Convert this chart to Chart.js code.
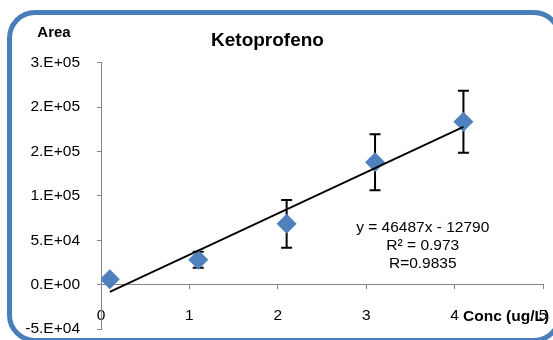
<!DOCTYPE html>
<html>
<head>
<meta charset="utf-8">
<script src="https://cdn.jsdelivr.net/npm/chart.js@4.4.1/dist/chart.umd.min.js"></script>
<style>
	body { margin: 0; background: #fff; }
	#wrap { position: relative; width: 553px; height: 340px; overflow: hidden; }
	#frame { position: absolute; left: 7px; top: 10px; width: 555px; height: 333px; box-sizing: border-box;
		border: 5px solid #4a7ebb; border-radius: 28px; pointer-events: none; }
</style>
</head>
<body>
<div id="wrap">
	<canvas id="mycanvas" width="553" height="340"></canvas>
	<div id="frame"></div>
</div>
<script>
var conc = [0.1, 1.1, 2.1, 3.1, 4.1];
var area = [6100, 28000, 68500, 138000, 183550];
var areaErr = [3000, 9000, 27000, 31500, 35000];

// trendline ends (y = 46487x - 12790)
var trendX = [0.1, 4.1];
var trendY = [-8141, 177807];

var xTicks = [0, 1, 2, 3, 4, 5];
var yTicks = [-50000, 0, 50000, 100000, 150000, 200000, 250000];
var yLabels = ['-5.E+04', '0.E+00', '5.E+04', '1.E+05', '2.E+05', '2.E+05', '3.E+05'];
var eqLines = ['y = 46487x - 12790', 'R\u00b2 = 0.973', 'R=0.9835'];

var FONT = '"Liberation Sans", Arial, sans-serif';

var points = [];
var errBars = [];
var trend = [];
for (var i in conc) {
	points.push({x: conc[i], y: area[i]});
	errBars.push({x: conc[i], y: area[i] - areaErr[i]});
	errBars.push({x: conc[i], y: area[i] + areaErr[i]});
	errBars.push({x: conc[i], y: null});
}
for (var j in trendX) {
	trend.push({x: trendX[j], y: trendY[j]});
}

var textPlugin = {
	id: 'chartText',
	afterDraw: function(chart) {
		var ctx = chart.ctx;
		var xs = chart.scales.x, ys = chart.scales.y;
		ctx.save();
		ctx.fillStyle = '#000';
		ctx.textBaseline = 'middle';
		ctx.textAlign = 'center';
		ctx.font = 'bold 15px ' + FONT;
		ctx.fillText('Area', 54, 33);

		ctx.font = '15.5px ' + FONT;
		var ex = xs.getPixelForValue(3.64);
		var ey = ys.getPixelForValue(63700);
		for (var k = 0; k < eqLines.length; k++) {
			ctx.fillText(eqLines[k], ex, ey + k * 18);
		}

		ctx.font = 'bold 15.5px ' + FONT;
		ctx.textAlign = 'left';
		ctx.fillText('Conc (ug/L)', 463, 317);
		ctx.restore();
	}
};

Chart.defaults.font.family = FONT;
Chart.defaults.color = '#000';

var ctx = document.getElementById('mycanvas');

var chart = new Chart(ctx, {
	type: 'scatter',
	data: {
		datasets: [
			{
				label: 'trend',
				data: trend,
				showLine: true,
				borderColor: '#000',
				borderWidth: 1.75,
				pointRadius: 0,
				order: 0
			},
			{
				label: 'Area',
				data: points,
				pointStyle: 'rectRot',
				pointRadius: 10,
				pointHoverRadius: 10,
				backgroundColor: '#4f81bd',
				borderColor: '#4f81bd',
				borderWidth: 0,
				order: 1
			},
			{
				label: 'error',
				data: errBars,
				showLine: true,
				spanGaps: false,
				borderColor: '#000',
				borderWidth: 2,
				pointStyle: 'line',
				pointRadius: 5.5,
				pointBorderColor: '#000',
				pointBorderWidth: 2,
				order: 2
			}
		]
	},
	options: {
		responsive: false,
		animation: false,
		layout: { padding: { left: -10, right: 8, top: 0, bottom: 11 } },
		plugins: {
			legend: { display: false },
			tooltip: { enabled: false },
			title: {
				display: true,
				text: 'Ketoprofeno',
				color: '#000',
				font: { size: 19, weight: 'bold' },
				padding: { top: 29, bottom: 11 }
			}
		},
		scales: {
			x: {
				type: 'linear',
				position: { y: 0 },
				min: 0,
				max: 5,
				afterBuildTicks: function(scale) {
					scale.ticks = xTicks.map(function(v) { return {value: v}; });
				},
				afterFit: function(scale) {
					scale.paddingLeft = 0;
					scale.paddingRight = 0;
				},
				grid: { display: true, drawOnChartArea: false, tickLength: 4, color: '#868686' },
				border: { color: '#868686', width: 1 },
				ticks: { font: { size: 15.5 }, padding: 18, maxRotation: 0 }
			},
			y: {
				min: -50000,
				max: 250000,
				afterBuildTicks: function(scale) {
					scale.ticks = yTicks.map(function(v) { return {value: v}; });
				},
				afterFit: function(scale) {
					scale.width = 111;
					scale.paddingTop = 9;
					scale.paddingBottom = 9;
				},
				grid: { display: true, drawOnChartArea: false, tickLength: 4, color: '#868686' },
				border: { color: '#868686', width: 1 },
				ticks: {
					font: { size: 15.5 },
					padding: 17,
					callback: function(value, index) { return yLabels[index]; }
				}
			}
		}
	},
	plugins: [textPlugin]
});
</script>
</body>
</html>
